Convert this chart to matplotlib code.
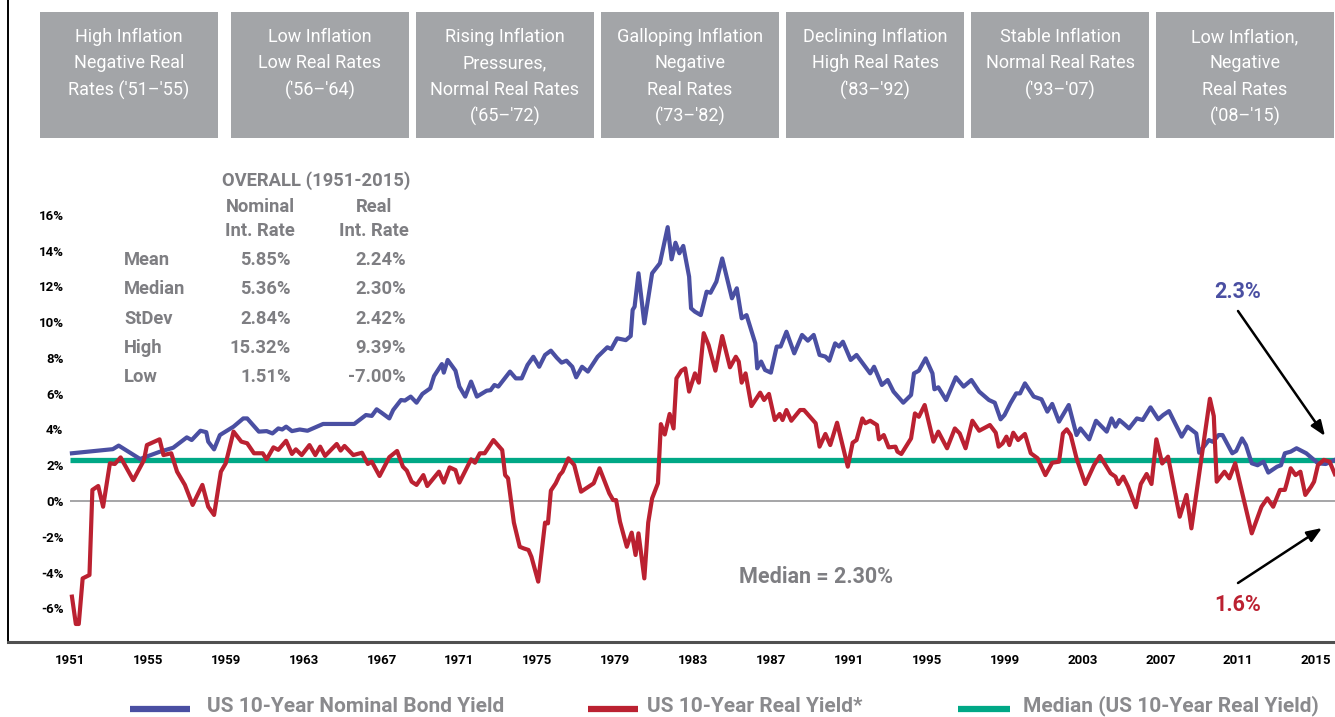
import numpy as np
import matplotlib
matplotlib.use("Agg")
import matplotlib.pyplot as plt
from matplotlib.patches import Rectangle
from matplotlib.lines import Line2D

# ---- data (year, percent) ----
nominal_years = [1951.1, 1953.2, 1953.5, 1954.6, 1955.6, 1956.3, 1957.0, 1957.25, 1957.7, 1958.0,
                 1958.1, 1958.4, 1958.7, 1959.4, 1959.9, 1960.1, 1960.7, 1961.1, 1961.4, 1961.7,
                 1961.9, 1962.1, 1962.4, 1962.8, 1963.2, 1964.0, 1965.6, 1966.2, 1966.5, 1966.75,
                 1967.0, 1967.4, 1967.6, 1968.0, 1968.2, 1968.5, 1968.8, 1969.1, 1969.5, 1969.7,
                 1970.1, 1970.2, 1970.4, 1970.8, 1971.0, 1971.3, 1971.6, 1971.9, 1972.4, 1972.6,
                 1972.8, 1973.0, 1973.6, 1973.9, 1974.2, 1974.5, 1974.8, 1975.1, 1975.4, 1975.7,
                 1976.0, 1976.25, 1976.5, 1976.8, 1977.0, 1977.3, 1977.6, 1978.1, 1978.6, 1978.8,
                 1979.1, 1979.55, 1979.8, 1979.9, 1980.0, 1980.2, 1980.5, 1980.9, 1981.3, 1981.7,
                 1981.9, 1982.1, 1982.3, 1982.5, 1982.8, 1982.9, 1983.1, 1983.4, 1983.7, 1983.9,
                 1984.2, 1984.5, 1985.0, 1985.25, 1985.5, 1985.75, 1986.2, 1986.3, 1986.5, 1986.7,
                 1987.0, 1987.3, 1987.5, 1987.8, 1988.2, 1988.6, 1988.9, 1989.2, 1989.5, 1989.8,
                 1990.0, 1990.3, 1990.5, 1990.7, 1991.1, 1991.4, 1992.1, 1992.3, 1992.7, 1993.0,
                 1993.3, 1993.8, 1994.2, 1994.35, 1994.6, 1994.95, 1995.3, 1995.4, 1995.6, 1996.0,
                 1996.5, 1996.9, 1997.3, 1997.7, 1998.2, 1998.5, 1998.8, 1999.0, 1999.3, 1999.6,
                 1999.8, 2000.05, 2000.5, 2000.9, 2001.2, 2001.45, 2001.8, 2002.3, 2002.7, 2002.9,
                 2003.35, 2003.7, 2004.25, 2004.5, 2004.7, 2004.9, 2005.1, 2005.4, 2005.8, 2006.1,
                 2006.5, 2006.9, 2007.15, 2007.45, 2008.1, 2008.4, 2008.85, 2009.0, 2009.5, 2009.7,
                 2010.0, 2010.2, 2010.7, 2010.9, 2011.2, 2011.4, 2011.7, 2012.0, 2012.3, 2012.55,
                 2013.0, 2013.2, 2013.4, 2013.7, 2014.0, 2014.5, 2014.8, 2015.1, 2015.5, 2015.97]
nominal_yield = [2.67, 2.90, 3.10, 2.35, 2.75, 2.98, 3.56, 3.41, 3.93, 3.85,
                 3.32, 2.89, 3.69, 4.16, 4.62, 4.62, 3.88, 3.91, 3.78, 4.06,
                 4.00, 4.16, 3.91, 4.00, 3.93, 4.31, 4.31, 4.81, 4.76, 5.13,
                 4.94, 4.62, 5.09, 5.65, 5.62, 5.84, 5.50, 5.99, 6.30, 6.99,
                 7.66, 7.18, 7.89, 7.29, 6.40, 5.84, 6.68, 5.84, 6.17, 6.20,
                 6.49, 6.40, 7.24, 6.86, 6.86, 7.61, 8.07, 7.51, 8.17, 8.41,
                 8.02, 7.74, 7.85, 7.51, 6.92, 7.51, 7.24, 8.07, 8.60, 8.50,
                 9.10, 9.00, 9.23, 10.69, 10.87, 12.74, 9.94, 12.74, 13.30, 15.32,
                 13.52, 14.45, 13.86, 14.27, 12.55, 10.78, 10.59, 10.40, 11.71, 11.65,
                 12.27, 13.57, 11.34, 11.90, 10.22, 10.40, 8.82, 7.42, 7.80, 7.33,
                 7.18, 8.64, 8.64, 9.47, 8.26, 9.29, 8.97, 9.29, 8.17, 8.08,
                 7.85, 8.82, 8.64, 8.91, 7.89, 8.17, 7.14, 7.51, 6.49, 6.77,
                 6.12, 5.50, 5.93, 7.14, 7.29, 7.98, 7.14, 6.25, 6.36, 5.65,
                 6.92, 6.40, 6.77, 6.12, 5.65, 5.50, 4.57, 4.81, 5.46, 6.02,
                 6.02, 6.58, 5.84, 5.69, 5.00, 5.43, 4.44, 5.37, 3.69, 4.06,
                 3.45, 4.49, 3.88, 4.62, 4.16, 4.53, 4.35, 4.06, 4.62, 4.53,
                 5.24, 4.57, 4.81, 5.03, 3.60, 4.16, 3.78, 2.70, 3.41, 3.31,
                 3.69, 3.69, 2.67, 2.80, 3.50, 3.13, 2.11, 2.00, 2.20, 1.59,
                 1.92, 2.00, 2.67, 2.76, 2.95, 2.67, 2.39, 2.11, 2.07, 2.30]

real_years = [1951.1, 1951.3, 1951.45, 1951.65, 1952.0, 1952.15, 1952.45, 1952.7, 1953.05, 1953.3,
              1953.6, 1954.25, 1954.8, 1954.95, 1955.6, 1955.8, 1956.2, 1956.5, 1956.9, 1957.3,
              1957.8, 1958.1, 1958.4, 1958.75, 1959.0, 1959.4, 1959.8, 1960.1, 1960.45, 1960.9,
              1961.1, 1961.45, 1961.7, 1962.1, 1962.4, 1962.6, 1962.9, 1963.3, 1963.6, 1963.85,
              1964.1, 1964.7, 1964.9, 1965.1, 1965.55, 1966.0, 1966.3, 1966.5, 1966.9, 1967.4,
              1967.8, 1968.1, 1968.3, 1968.55, 1968.8, 1969.15, 1969.35, 1969.95, 1970.2, 1970.5,
              1970.8, 1971.0, 1971.6, 1971.8, 1972.05, 1972.3, 1972.75, 1973.2, 1973.35, 1973.5,
              1973.8, 1974.1, 1974.3, 1974.55, 1974.7, 1975.05, 1975.4, 1975.55, 1975.7, 1975.95,
              1976.15, 1976.3, 1976.6, 1976.9, 1977.25, 1977.9, 1978.2, 1978.7, 1978.9, 1979.05,
              1979.25, 1979.6, 1979.85, 1980.05, 1980.2, 1980.5, 1980.7, 1980.9, 1981.2, 1981.35,
              1981.55, 1981.8, 1982.0, 1982.15, 1982.4, 1982.6, 1982.8, 1983.1, 1983.3, 1983.55,
              1983.8, 1984.15, 1984.5, 1984.9, 1985.2, 1985.35, 1985.5, 1985.7, 1986.0, 1986.45,
              1986.65, 1986.9, 1987.2, 1987.45, 1987.6, 1987.8, 1988.05, 1988.5, 1988.7, 1989.3,
              1989.5, 1989.8, 1990.05, 1990.4, 1990.7, 1990.95, 1991.2, 1991.4, 1991.7, 1991.85,
              1992.1, 1992.45, 1992.55, 1992.8, 1993.05, 1993.4, 1993.5, 1993.7, 1994.2, 1994.4,
              1994.6, 1994.9, 1995.35, 1995.6, 1996.05, 1996.45, 1996.7, 1997.0, 1997.35, 1997.7,
              1998.25, 1998.55, 1998.7, 1998.9, 1999.1, 1999.25, 1999.45, 1999.7, 2000.05, 2000.35,
              2000.7, 2001.1, 2001.45, 2001.8, 2002.0, 2002.2, 2002.4, 2002.7, 2003.15, 2003.6,
              2003.9, 2004.45, 2004.7, 2004.85, 2005.1, 2005.35, 2005.75, 2006.0, 2006.3, 2006.55,
              2006.8, 2007.1, 2007.4, 2008.0, 2008.35, 2008.6, 2009.55, 2009.75, 2009.9, 2010.3,
              2010.55, 2010.85, 2011.7, 2012.2, 2012.5, 2012.8, 2013.15, 2013.4, 2013.5, 2013.7,
              2013.95, 2014.2, 2014.45, 2014.75, 2014.9, 2015.1, 2015.4, 2015.7, 2015.97]
real_yield = [-5.35, -6.88, -6.88, -4.33, -4.14, 0.62, 0.84, -0.32, 2.11, 2.07,
              2.44, 1.17, 2.29, 3.13, 3.45, 2.57, 2.67, 1.64, 0.90, -0.22,
              0.90, -0.32, -0.78, 1.64, 2.11, 3.88, 3.32, 3.23, 2.67, 2.67,
              2.33, 3.00, 2.86, 3.37, 2.63, 2.89, 2.57, 3.13, 2.57, 3.04,
              2.52, 3.19, 2.82, 3.08, 2.57, 2.70, 2.07, 2.20, 1.40, 2.45,
              2.80, 1.92, 1.70, 1.08, 0.90, 1.45, 0.84, 1.64, 1.03, 1.88,
              1.73, 1.03, 2.33, 2.14, 2.67, 2.67, 3.41, 2.85, 1.45, 1.27,
              -1.21, -2.56, -2.65, -2.74, -3.12, -4.51, -1.21, -1.25, 0.58, 0.99,
              1.45, 1.64, 2.39, 2.01, 0.52, 0.99, 1.83, 0.43, 0.05, 0.05,
              -1.16, -2.56, -1.77, -3.02, -1.81, -4.33, -1.21, 0.15, 0.99, 4.30,
              3.72, 4.87, 4.06, 6.86, 7.29, 7.42, 6.12, 7.14, 6.62, 9.39,
              8.73, 7.29, 9.23, 7.48, 8.07, 7.80, 6.62, 7.14, 5.31, 6.06,
              5.65, 5.99, 4.53, 4.87, 4.53, 5.09, 4.49, 5.09, 5.09, 4.35,
              3.04, 3.75, 3.13, 4.38, 3.04, 1.92, 3.26, 3.41, 4.62, 4.35,
              4.49, 4.25, 3.45, 3.69, 3.00, 3.04, 2.76, 2.63, 3.50, 4.90,
              4.71, 5.37, 3.32, 3.88, 2.95, 4.06, 3.78, 2.95, 4.49, 3.93,
              4.25, 3.82, 3.04, 3.22, 3.60, 3.13, 3.82, 3.41, 3.75, 2.67,
              2.39, 1.45, 2.14, 2.20, 3.78, 4.01, 3.69, 2.39, 0.95, 2.01,
              2.52, 1.55, 1.36, 0.95, 1.36, 0.80, -0.35, 0.95, 1.51, 0.95,
              3.45, 2.10, 2.48, -0.88, 0.34, -1.53, 5.72, 4.75, 1.08, 1.64,
              1.27, 2.11, -1.81, -0.32, 0.15, -0.32, 0.62, 0.62, 1.00, 1.83,
              1.45, 1.64, 0.34, 0.80, 1.08, 2.01, 2.30, 2.20, 1.50]

median_real = 2.30
latest_real = 1.6
year_ticks = list(range(1951, 2016, 4))
pct_ticks = list(range(-6, 17, 2))

regimes = [
    ["High Inflation", "Negative Real", "Rates ('51\u2013'55)"],
    ["Low Inflation", "Low Real Rates", "('56\u2013'64)"],
    ["Rising Inflation", "Pressures,", "Normal Real Rates", "('65\u2013'72)"],
    ["Galloping Inflation", "Negative", "Real Rates", "('73\u2013'82)"],
    ["Declining Inflation", "High Real Rates", "('83\u2013'92)"],
    ["Stable Inflation", "Normal Real Rates", "('93\u2013'07)"],
    ["Low Inflation,", "Negative", "Real Rates", "('08\u2013'15)"],
]

stat_names = ["Mean", "Median", "StDev", "High", "Low"]
stat_nominal = ["5.85%", "5.36%", "2.84%", "15.32%", "1.51%"]
stat_real = ["2.24%", "2.30%", "2.42%", "9.39%", "-7.00%"]

# ---- styling ----
BLUE = "#4a4fa2"
RED = "#bb2131"
GREEN = "#00a886"
GREY_TXT = "#7e7e82"
BOX = "#a3a5a8"
BOLD = ["Roboto", "DejaVu Sans"]

W, H = 1335, 717
fig = plt.figure(figsize=(W / 100, H / 100), dpi=100)


def fx(px):
    return px / W


def fy(py):
    return 1 - py / H


ax = fig.add_axes([fx(8), fy(642), fx(1335) - fx(8), fy(0) - fy(642)])
ax.set_facecolor("none")

px_per_year = (1316 - 70) / 64.0
px_per_pct = (501 - 215) / 16.0
ax.set_xlim(1951 - (70 - 8) / px_per_year, 1951 + (1335 - 70) / px_per_year)
ax.set_ylim(-(642 - 501) / px_per_pct, 501 / px_per_pct)

ax.hlines(0, nominal_years[0] - 0.1, 2016.5, color="#9e9ea0", lw=1.3, zorder=1)
ax.hlines(median_real, nominal_years[0] - 0.1, 2016.5, color=GREEN, lw=3.8, zorder=2)
ax.plot(nominal_years, nominal_yield, color=BLUE, lw=3.0, zorder=3, solid_joinstyle="round")
ax.plot(real_years, real_yield, color=RED, lw=3.0, zorder=4, solid_joinstyle="round")

for s in ["top", "right"]:
    ax.spines[s].set_visible(False)
ax.spines["left"].set_color("black")
ax.spines["left"].set_linewidth(1.4)
ax.spines["bottom"].set_color("#505050")
ax.spines["bottom"].set_linewidth(2.2)

ax.set_xticks(year_ticks)
ax.set_xticklabels([str(y) for y in year_ticks])
ax.set_yticks(pct_ticks)
ax.set_yticklabels(["%d%%" % p for p in pct_ticks])
ax.tick_params(axis="x", length=0, pad=9)
ax.tick_params(axis="y", length=0, pad=-40)
for lab in ax.get_xticklabels() + ax.get_yticklabels():
    lab.set_family(BOLD)
    lab.set_fontweight("bold")
    lab.set_fontsize(9.5)
    lab.set_color("black")
for lab in ax.get_yticklabels():
    lab.set_horizontalalignment("right")

# ---- regime boxes ----
box_left = [40, 231, 416, 601, 786, 971, 1156]
for left, lines in zip(box_left, regimes):
    fig.add_artist(Rectangle((fx(left), fy(138)), fx(178), fy(12) - fy(138),
                             transform=fig.transFigure, facecolor=BOX, edgecolor="none", zorder=5))
    for i, line in enumerate(lines):
        fig.text(fx(left + 89), fy(37 + i * 26.5), line, ha="center", va="center",
                 color="white", fontsize=13, family=["Roboto", "DejaVu Sans"],
                 fontweight="normal", zorder=6)

# ---- stats table ----
tkw = dict(color=GREY_TXT, fontsize=13.2, family=BOLD, fontweight="bold", va="center")
fig.text(fx(316), fy(181), "OVERALL (1951-2015)", ha="center", **tkw)
fig.text(fx(260), fy(207), "Nominal", ha="center", **tkw)
fig.text(fx(260), fy(231), "Int. Rate", ha="center", **tkw)
fig.text(fx(374), fy(207), "Real", ha="center", **tkw)
fig.text(fx(374), fy(231), "Int. Rate", ha="center", **tkw)
for i, (n, a, b) in enumerate(zip(stat_names, stat_nominal, stat_real)):
    yy = 260 + i * 29.25
    fig.text(fx(124), fy(yy), n, ha="left", **tkw)
    fig.text(fx(291), fy(yy), a, ha="right", **tkw)
    fig.text(fx(406), fy(yy), b, ha="right", **tkw)

mkw = dict(tkw)
mkw["fontsize"] = 15.5
fig.text(fx(816), fy(577), "Median = %.2f%%" % median_real, ha="center", **mkw)

# ---- end-of-series callouts ----
fig.text(fx(1238), fy(292), "%.1f%%" % nominal_yield[-1], ha="center", va="center",
         color=BLUE, fontsize=15.5, family=BOLD, fontweight="bold")
fig.text(fx(1238), fy(605), "%.1f%%" % latest_real, ha="center", va="center",
         color=RED, fontsize=15.5, family=BOLD, fontweight="bold")
akw = dict(arrowstyle="-|>,head_length=0.9,head_width=0.35", color="black", lw=1.8,
           shrinkA=0, shrinkB=0)
ax.annotate("", xy=(1325, H - 436), xytext=(1238, H - 311), xycoords="figure pixels",
            textcoords="figure pixels", arrowprops=akw, annotation_clip=False)
ax.annotate("", xy=(1322, H - 528), xytext=(1238, H - 583), xycoords="figure pixels",
            textcoords="figure pixels", arrowprops=akw, annotation_clip=False)

# ---- legend ----
legend_items = [("US 10-Year Nominal Bond Yield", BLUE, 130, 190, 207),
                ("US 10-Year Real Yield*", RED, 588, 638, 647),
                ("Median (US 10-Year Real Yield)", GREEN, 958, 1010, 1023)]
for label, col, x0, x1, xt in legend_items:
    fig.add_artist(Line2D([fx(x0), fx(x1)], [fy(709), fy(709)], transform=fig.transFigure,
                          color=col, lw=4.5, solid_capstyle="butt"))
    fig.text(fx(xt), fy(716), label, ha="left", va="bottom", color="#8a8a8d",
             fontsize=15, family=BOLD, fontweight="bold")

fig.savefig("out.png", dpi=100, facecolor="white")
